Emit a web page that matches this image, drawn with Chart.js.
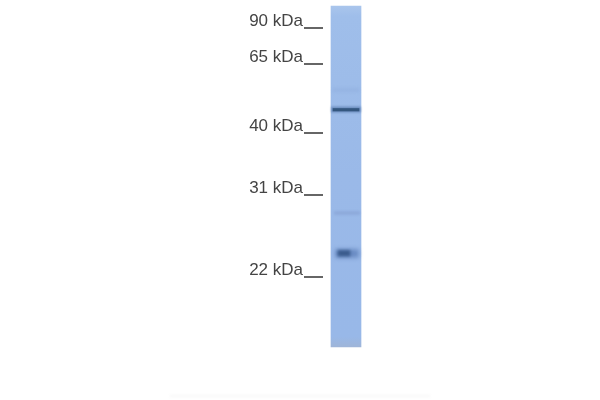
<!DOCTYPE html>
<html>
<head>
<meta charset="utf-8">
<style>
html,body{margin:0;padding:0;background:#fff}
canvas{display:block;filter:blur(.65px)}
</style>
<script src="https://cdn.jsdelivr.net/npm/chart.js@4/dist/chart.umd.js"></script>
</head>
<body>
<canvas id="blot" width="600" height="400"></canvas>
<script>
// marker ladder, y values are migration distance
const markerLabels = ["90 kDa", "65 kDa", "40 kDa", "31 kDa", "22 kDa"];
const markerValues = [28, 63.5, 133, 195, 277];

const laneRange = [6, 347];
const mainBand = [107, 112];
const mainCore = [108.5, 111];
const faintBandTop = [88, 92];
const faintBandLow = [211.5, 214.5];
const lowerBand = [249.5, 257.5];
const lowerCore = [250.5, 256];
const footerRule = [394.5, 397.5];

const laneColor = ctx => {
	const area = ctx.chart.chartArea;
	if (!area) return "#9dbde9";
	const g = ctx.chart.ctx.createLinearGradient(0, 6, 0, 347);
	g.addColorStop(0, "#a9c5ec");
	g.addColorStop(0.03, "#9fbeea");
	g.addColorStop(0.5, "#9ab9e8");
	g.addColorStop(0.97, "#98b8e8");
	g.addColorStop(1, "#9fb5d8");
	return g;
};

const bar = (x, range, width, color, blur) => ({
	data: [{x: x, y: range}],
	barThickness: width,
	backgroundColor: color,
	stack: "blot",
	clip: false,
	blur: blur
});

const blurPlugin = {
	id: "blur",
	beforeDatasetDraw(chart, args){
		const b = chart.data.datasets[args.index].blur;
		chart.ctx.save();
		if (b) chart.ctx.filter = `blur(${b}px)`;
	},
	afterDatasetDraw(chart){
		chart.ctx.restore();
	}
};

new Chart(document.getElementById("blot"), {
	type: "bar",
	data: {
		// chart.js paints the first dataset on top, so the lane goes last
		datasets: [
			bar(344, lowerCore, 12, "#3a5b8c", 1.6),
			bar(347, lowerBand, 23, "rgba(80,115,175,.65)", 2),
			bar(347, faintBandLow, 25, "rgba(130,155,205,.5)", 1.3),
			bar(346, mainCore, 26, "#34577f", 0.7),
			bar(346, mainBand, 29, "rgba(70,105,155,.6)", 1),
			bar(346, faintBandTop, 26, "rgba(135,165,215,.3)", 1.6),
			bar(346, laneRange, 30, laneColor, 0.6),
			bar(300, footerRule, 260, "#fafafa", 1)
		]
	},
	options: {
		responsive: false,
		animation: false,
		layout: {padding: 0},
		plugins: {legend: {display: false}, tooltip: {enabled: false}},
		scales: {
			x: {
				type: "linear",
				min: 323,
				max: 600,
				offset: false,
				display: false
			},
			y: {
				type: "linear",
				min: 0,
				max: 400,
				reverse: true,
				stacked: false,
				afterFit(scale){
					scale.width = 323
					scale.paddingTop = 0
					scale.paddingBottom = 0
				},
				afterBuildTicks(scale){
					scale.ticks = markerValues.map(v => ({value: v}));
				},
				border: {display: false},
				grid: {
					drawOnChartArea: false,
					color: "#666",
					lineWidth: 2,
					tickLength: 19
				},
				ticks: {
					autoSkip: false,
					padding: 1,
					labelOffset: -6.5,
					color: "#444",
					font: {family: "Liberation Sans", size: 17},
					callback: v => markerLabels[markerValues.indexOf(v)]
				}
			}
		}
	},
	plugins: [blurPlugin]
});
</script>
</body>
</html>
